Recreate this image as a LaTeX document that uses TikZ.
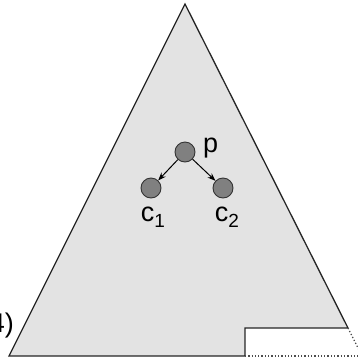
\documentclass[tikz,border=0pt]{standalone}
\usepackage{fontspec}
\setmainfont{Liberation Sans}
\usetikzlibrary{arrows.meta}
\newcommand{\mysub}[1]{\raisebox{-6pt}{\fontsize{19}{20}\selectfont #1}}
\begin{document}
\begin{tikzpicture}[x=1pt,y=-1pt,
  treenode/.style={circle,draw=black!80,fill=black!50,line width=0.9pt,minimum size=20pt,inner sep=0pt},
  edge/.style={-{Stealth[length=8pt,width=6pt]},line width=1pt},
  lbl/.style={font=\fontsize{27}{30}\selectfont,inner sep=0pt}]
\useasboundingbox (0,0) rectangle (358,360);
\clip (0,0) rectangle (358,360);
\filldraw[fill=black!11,draw=black!85,line width=1.3pt,line join=miter]
  (185,4) -- (348,328) -- (245,328) -- (245,356) -- (9,356) -- cycle;
\draw[black!70,line width=1.3pt,dotted] (348,328) -- (362,356);
\draw[black!70,line width=1.3pt,dotted] (245,356) -- (362,356);
\node[treenode] (p) at (185,152) {};
\node[treenode] (c1) at (151,188) {};
\node[treenode] (c2) at (223,188) {};
\draw[edge] (p) -- (c1);
\draw[edge] (p) -- (c2);
\node[lbl,anchor=west] (lp) at (203,148) {p};
\node[lbl,anchor=north] (lc1) at (153,207) {c\mysub{1}};
\node[lbl,anchor=north] (lc2) at (227,207) {c\mysub{2}};
\node[lbl,anchor=east] (lh) at (14,326) {(4)};
\end{tikzpicture}
\end{document}
